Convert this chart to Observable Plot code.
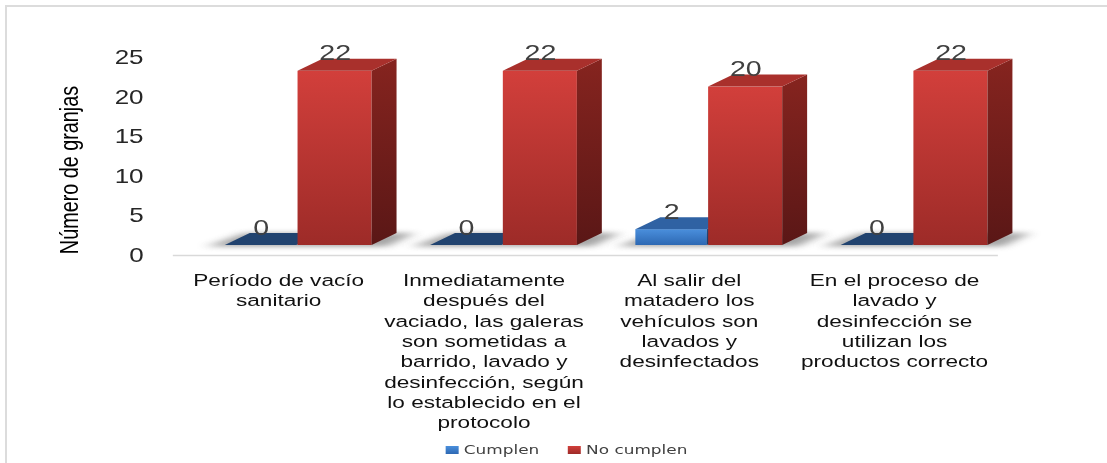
<!DOCTYPE html>
<html>
<head>
<meta charset="utf-8">
<script src="https://cdn.jsdelivr.net/npm/d3@7"></script>
<script src="https://cdn.jsdelivr.net/npm/@observablehq/plot@0.6"></script>
<style>
  html, body { margin: 0; padding: 0; background: #fff; overflow: hidden; width: 1107px; height: 463px; }
  #border { position: absolute; left: 5px; top: 5px; width: 1200px; height: 600px;
            border-left: 2px solid #dcdcdc; border-top: 2px solid #dcdcdc; }
  #chart { position: absolute; left: 0; top: 0; width: 852px; transform-origin: 0 0; }
  #legend { height: 27px; display: flex; justify-content: center; align-items: center;
            padding-left: 20px; font: 13px "DejaVu Sans", sans-serif; color: #404040; }
  #legend .item { display: flex; align-items: center; margin: 0 11px; }
  #legend .sw { display: inline-block; width: 10px; height: 8px; margin-right: 4px; }
</style>
</head>
<body>
<div id="border"></div>
<div id="chart"></div>
<script>
// ---- data ----
const categories = [
  "Período de vacío\nsanitario",
  "Inmediatamente\ndespués del\nvaciado, las galeras\nson sometidas a\nbarrido, lavado y\ndesinfección, según\nlo establecido en el\nprotocolo",
  "Al salir del\nmatadero los\nvehículos son\nlavados y\ndesinfectados",
  "En el proceso de\nlavado y\ndesinfección se\nutilizan los\nproductos correcto"
];
const series = ["Cumplen", "No cumplen"];
const cumplen = [0, 0, 2, 0];
const noCumplen = [22, 22, 20, 22];
const yTicks = [0, 5, 10, 15, 20, 25];
const yTitle = "Número de granjas";

// ---- layout constants ----
const STRETCH = 1107 / 852;   // horizontal stretch of the original picture
const DX = 19.2, DY = 12;     // 3D depth offset
const NS = "http://www.w3.org/2000/svg";

const blueData = categories.map((c, i) => ({category: c, series: series[0], value: cumplen[i]}));
const redData = categories.map((c, i) => ({category: c, series: series[1], value: noCumplen[i]}));

function poly(points, fill) {
  const p = document.createElementNS(NS, "polygon");
  p.setAttribute("points", points.map(d => d.join(",")).join(" "));
  p.setAttribute("fill", fill);
  return p;
}

function bar3d(sideFill, topFill, flatTopFill) {
  return function(index, scales, values, dimensions, context, next) {
    const g = next(index, scales, values, dimensions, context);
    for (const r of Array.from(g.querySelectorAll("rect"))) {
      const x = +r.getAttribute("x"), y = +r.getAttribute("y");
      const w = +r.getAttribute("width"), h = +r.getAttribute("height");
      const x2 = x + w, yb = y + h;
      g.appendChild(poly([[x2, y], [x2 + DX, y - DY], [x2 + DX, yb - DY], [x2, yb]], sideFill));
      g.appendChild(poly([[x, y], [x2, y], [x2 + DX, y - DY], [x + DX, y - DY]], h < 1 ? flatTopFill : topFill));
    }
    return g;
  };
}

function shadowRender(index, scales, values, dimensions, context, next) {
  const g = next(index, scales, values, dimensions, context);
  for (const r of Array.from(g.querySelectorAll("rect"))) {
    const x = +r.getAttribute("x"), y = +r.getAttribute("y");
    const w = +r.getAttribute("width");
    const x2 = x + w;
    const p = poly([[x - 14, y + 1.5], [x + DX - 4, y - DY], [x2 + DX + 14, y - DY], [x2 + 12, y + 1.5]], "#6a6a6a");
    p.setAttribute("filter", "url(#shadowBlur)");
    p.setAttribute("opacity", "0.6");
    g.appendChild(p);
    r.remove();
  }
  return g;
}

const svg = Plot.plot({
  width: 852,
  height: 436,
  marginLeft: 133,
  marginRight: 84,
  marginTop: 57,
  marginBottom: 181,
  style: {fontFamily: "'Liberation Sans', Arial, sans-serif", background: "transparent", overflow: "visible"},
  x: {domain: categories, padding: 0, label: null},
  y: {domain: [0, 25], label: null},
  marks: [
    Plot.ruleY([0], {stroke: "#d9d9d9", strokeWidth: 1.5}),
    Plot.barY(categories, {x: d => d, y1: 0, y2: 0, insetLeft: 38, insetRight: 7, dy: -10, fill: "#888", render: shadowRender}),
    Plot.barY(blueData, {x: "category", y: "value", insetLeft: 38, insetRight: 65, dy: -10,
      fill: "url(#blueFront)", render: bar3d("url(#blueSide)", "#2f62a3", "#21436f")}),
    Plot.barY(redData, {x: "category", y: "value", insetLeft: 94, insetRight: 7, dy: -10,
      fill: "url(#redFront)", render: bar3d("url(#redSide)", "#a9302c", "#a9302c")}),
    Plot.text(blueData, {x: "category", y: "value", text: d => String(d.value), dx: -13.5, dy: -21,
      lineAnchor: "bottom", fontSize: 22, fill: "#404040"}),
    Plot.text(redData, {x: "category", y: "value", text: d => String(d.value), dx: 43.5, dy: -21,
      lineAnchor: "bottom", fontSize: 22, fill: "#404040"}),
    Plot.text([yTitle], {frameAnchor: "left", text: d => d, rotate: -90, textAnchor: "middle",
      lineAnchor: "middle", dx: -80, dy: 13.5, fontSize: 19.8, fill: "#000"}),
    Plot.axisY({ticks: yTicks, tickSize: 0, tickPadding: 23, fontSize: 20, fill: "#262626", label: null}),
    Plot.axisX({tickSize: 0, tickPadding: 16, fontSize: 17.4, lineHeight: 1.17, fill: "#111", label: null})
  ]
});

const defs = document.createElementNS(NS, "defs");
defs.innerHTML = `
  <linearGradient id="redFront" x1="0" y1="0" x2="0" y2="1">
    <stop offset="0" stop-color="#d23f3b"/><stop offset="1" stop-color="#9d2b28"/>
  </linearGradient>
  <linearGradient id="redSide" x1="0" y1="0" x2="0" y2="1">
    <stop offset="0" stop-color="#86241f"/><stop offset="1" stop-color="#5a1716"/>
  </linearGradient>
  <linearGradient id="blueFront" x1="0" y1="0" x2="0" y2="1">
    <stop offset="0" stop-color="#4a8fdc"/><stop offset="1" stop-color="#2d68b3"/>
  </linearGradient>
  <linearGradient id="blueSide" x1="0" y1="0" x2="0" y2="1">
    <stop offset="0" stop-color="#27538e"/><stop offset="1" stop-color="#1b3b68"/>
  </linearGradient>
  <filter id="shadowBlur" x="-50%" y="-100%" width="200%" height="300%">
    <feGaussianBlur stdDeviation="5 2.5"/>
  </filter>`;
svg.insertBefore(defs, svg.firstChild);

const chart = document.getElementById("chart");
chart.style.transform = `scaleX(${STRETCH})`;
chart.appendChild(svg);

const legendColors = ["linear-gradient(#4a8fdc, #2d68b3)", "linear-gradient(#d23f3b, #9d2b28)"];
const legend = document.createElement("div");
legend.id = "legend";
series.forEach((s, i) => {
  const item = document.createElement("span");
  item.className = "item";
  const sw = document.createElement("span");
  sw.className = "sw";
  sw.style.background = legendColors[i];
  item.appendChild(sw);
  item.appendChild(document.createTextNode(s));
  legend.appendChild(item);
});
chart.appendChild(legend);
</script>
</body>
</html>
